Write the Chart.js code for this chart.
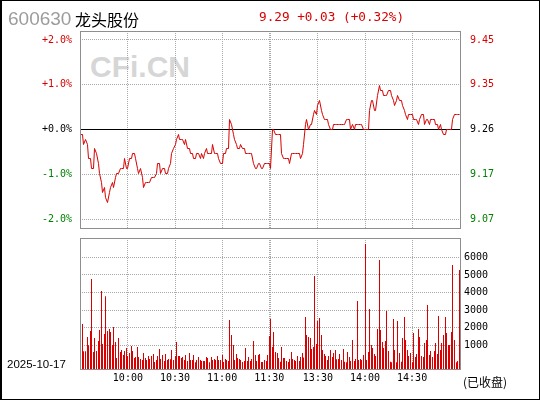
<!DOCTYPE html>
<html>
<head>
<meta charset="utf-8">
<script src="https://cdn.jsdelivr.net/npm/chart.js@4.4.1/dist/chart.umd.min.js"></script>
<style>
    html, body { margin: 0; padding: 0; background: #fff; }
    #frame { position: relative; width: 540px; height: 400px; overflow: hidden; background: #fff; }
    #frame canvas { position: absolute; left: 0; }
    .txt { position: absolute; line-height: 1; white-space: pre; }
    #code { left: 8px; top: 8px; font: 19px "Liberation Sans", Arial, sans-serif; color: #9c9c9c; }
    #name { left: 75px; top: 6.5px; font: 16px "Noto Sans CJK SC", sans-serif; color: #000; }
    #quote { left: 259px; top: 9px; font: 12.7px "DejaVu Sans Mono", monospace; color: #d80000; }
    #mark { left: 90px; top: 49.5px; font: bold 30px "Liberation Sans", Arial, sans-serif; color: #d6d6d6; }
    #date { left: 7px; top: 357.5px; font: 11.5px "Liberation Sans", Arial, sans-serif; color: #000; }
    #closed { left: 463px; top: 372.5px; font: 12px "Noto Sans CJK SC", sans-serif; color: #000; }
    #border { position: absolute; left: 0; top: 0; width: 540px; height: 400px; box-sizing: border-box;
              border: 1px solid #000; border-left-width: 2px; pointer-events: none; }
</style>
</head>
<body>
<div id="frame">
    <div id="mark" class="txt">CFi.CN</div>
    <canvas id="price-chart" width="540" height="244" style="top:0"></canvas>
    <canvas id="volume-chart" width="540" height="172" style="top:228px"></canvas>
    <div id="code" class="txt">600630</div>
    <div id="name" class="txt">龙头股份</div>
    <div id="quote" class="txt">9.29 +0.03 (+0.32%)</div>
    <div id="date" class="txt">2025-10-17</div>
    <div id="closed" class="txt">(已收盘)</div>
    <div id="border"></div>
</div>
<script>
// Previous close and percent range of the price panel
const prevClose = 9.26;
const pctRange = 2.2;

// Minute slots: 9:30..11:30 and 13:00..15:00 (242 slots)
const timeTicks = [30, 60, 90, 120, 121, 151, 181, 211];
const timeLabels = ['10:00', '10:30', '11:00', '11:30', '', '13:30', '14:00', '14:30'];

const pctTicks = [-2, -1, 0, 1, 2];
const volumeTicks = [1000, 2000, 3000, 4000, 5000, 6000];
const volumeMin = -350;
const volumeMax = 7100;

// Minute prices
const prices = [
    9.25, 9.25, 9.23, 9.24, 9.23, 9.20, 9.20, 9.18, 9.18, 9.22,
    9.21, 9.19, 9.17, 9.15, 9.13, 9.14, 9.12, 9.11, 9.13, 9.14,
    9.15, 9.14, 9.16, 9.17, 9.17, 9.18, 9.18, 9.18, 9.20, 9.18,
    9.18, 9.20, 9.20, 9.21, 9.21, 9.20, 9.18, 9.17, 9.18, 9.16,
    9.14, 9.15, 9.15, 9.15, 9.15, 9.16, 9.16, 9.16, 9.17, 9.19,
    9.19, 9.17, 9.18, 9.18, 9.17,
    9.17, 9.18, 9.19, 9.21, 9.22, 9.23, 9.24, 9.25, 9.24, 9.24, 9.24,
    9.23, 9.24, 9.22, 9.22, 9.21,
    9.21, 9.20, 9.20, 9.21, 9.21, 9.20, 9.21, 9.20, 9.21, 9.22,
    9.21, 9.21, 9.21, 9.23, 9.21, 9.21, 9.21, 9.20, 9.19, 9.19,
    9.21, 9.21, 9.22, 9.22, 9.28, 9.27, 9.25, 9.24, 9.23, 9.22,
    9.22, 9.23, 9.22, 9.22, 9.21, 9.21, 9.21, 9.21, 9.21, 9.19,
    9.18, 9.18, 9.19, 9.19, 9.18, 9.18, 9.19, 9.19, 9.19, 9.19,
    9.18, 9.26, 9.26, 9.25, 9.25, 9.25, 9.25, 9.21, 9.20, 9.20,
    9.20, 9.20, 9.19, 9.21, 9.21, 9.21, 9.21, 9.21, 9.21, 9.20,
    9.21, 9.23, 9.27, 9.28, 9.26, 9.27, 9.27, 9.29, 9.30, 9.29,
    9.31, 9.32, 9.30, 9.29, 9.28, 9.28, 9.28, 9.27, 9.26, 9.26,
    9.27, 9.27, 9.27, 9.27, 9.27, 9.27, 9.27, 9.27, 9.28, 9.28,
    9.28, 9.26, 9.27, 9.26, 9.27, 9.27, 9.27, 9.27, 9.27, 9.26,
    9.26,
    9.26, 9.26, 9.30, 9.32, 9.32, 9.30, 9.30, 9.33, 9.35, 9.34,
    9.34, 9.33, 9.33, 9.33, 9.34, 9.34, 9.33, 9.32, 9.31, 9.32,
    9.33, 9.32, 9.32, 9.31, 9.30, 9.29, 9.28, 9.29, 9.29, 9.29,
    9.28, 9.28, 9.28, 9.27, 9.28, 9.29, 9.29, 9.27, 9.28, 9.28,
    9.27, 9.28, 9.28, 9.28, 9.27, 9.27, 9.26, 9.27, 9.26, 9.25,
    9.25, 9.26, 9.26, 9.26, 9.26, 9.28, 9.29, 9.29, 9.29, 9.29
];

// Minute volumes
const volumes = [
    657, 2210, 657, 657, 1472, 998, 1813, 4767, 620, 1415,
    676, 1245, 1870, 4085, 1074, 1642, 3782, 1813, 1927, 1756,
    1017, 2040, 1188, 279, 1415, 620, 733, 449, 676, 847,
    392, 563, 961, 676, 279, 336, 904, 336, 222, 165,
    563, 279, 165, 392, 222, 392, 506, 51, 165, 392,
    790, 222, 449, 108, 506, 165, 222, 200, 733, 165,
    392, 1188, 392, 392, 279, 336, 165, 449, 108, 563,
    165, 165, 449, 30, 165, 336, 165, 108, 108, 108,
    336,
    279, 30, 336, 165, 222, 165, 392, 165, 165, 449,
    51, 222, 165, 100, 2438, 1586, 1017, 165, 506, 279,
    222, 165, 51, 108, 847, 108, 336, 108, 222, 1245,
    449, 108, 449, 506, 51, 51, 165, 108, 449, 1529,
    2495, 900, 1756, 620, 563, 279, 60, 904, 279, 279,
    108, 51, 222, 620, 222, 165, 108, 392, 108, 336,
    563, 300, 2608, 1586, 1472, 1415, 790, 904, 4938, 1074,
    2381, 2552, 1586, 733, 506, 392, 165, 392, 733,
    336, 563, 733, 200, 222, 506, 165, 790, 60, 30,
    620, 336, 100, 1301, 108, 222, 3517, 165, 222, 165,
    449, 6756, 165, 620, 3063, 1017, 847, 506, 392, 1927,
    5847, 1870, 1188, 847, 1245, 2949, 676, 60, 30, 2495,
    733, 30, 2381, 563, 60, 1415, 2608, 1301, 733, 392,
    563, 30, 1699, 336, 506, 1927, 1472, 392, 336, 1131,
    1301, 3290, 449, 676, 336, 676, 1131, 506, 2665, 733,
    1131, 1586, 2608, 1699, 1017, 1017, 1756, 5563, 1301, 30,
    100, 5279
];

const RED = '#d80000';
const GREEN = '#008000';
const GRID = '#a8a8a8';
const FRAME = '#8e8e8e';
const TICK_FONT = { family: 'DejaVu Sans Mono', size: 10 };

// Helper: fixed tick list for a scale
function fixedTicks(values) {
    return axis => { axis.ticks = values.map(v => ({ value: v })); };
}

// Helper: colour by sign against a base value
function signColor(value, base) {
    if (Math.abs(value - base) < 1e-9) return '#000';
    return value > base ? RED : GREEN;
}

// Plugin: gray frame round the plot area
const framePlugin = {
    id: 'frame',
    afterDraw(chart) {
        const { ctx, chartArea: a } = chart;
        ctx.save();
        ctx.strokeStyle = FRAME;
        ctx.lineWidth = 1;
        ctx.strokeRect(Math.round(a.left) + 0.5, Math.round(a.top) + 0.5,
            Math.round(a.right - a.left), Math.round(a.bottom - a.top));
        ctx.restore();
    }
};

// Plugin: snap marks to whole pixels so lines and bars stay crisp
const snapPlugin = {
    id: 'snap',
    afterDatasetsUpdate(chart) {
        chart.getSortedVisibleDatasetMetas().forEach(meta => {
            meta.data.forEach(el => {
                el.x = Math.floor(el.x) + 0.5;
                if (meta.type === 'line') el.y = Math.round(el.y - 0.5) + 0.5;
            });
        });
    }
};

const timeAxis = (showLabels) => ({
    type: 'linear',
    min: -0.5,
    max: 241.5,
    offset: false,
    afterBuildTicks: fixedTicks(timeTicks),
    afterFit: axis => { axis.height = showLabels ? 31 : 0; },
    ticks: {
        display: showLabels,
        autoSkip: false,
        maxRotation: 0,
        color: '#000',
        font: TICK_FONT,
        padding: 3,
        callback: (v, i) => timeLabels[i]
    },
    grid: { color: GRID, drawTicks: false, offset: false },
    border: { display: false, dash: [1, 1] }
});

// Price chart
new Chart(document.getElementById('price-chart'), {
    type: 'line',
    data: {
        datasets: [{
            data: prices.map((p, i) => ({ x: i, y: p })),
            yAxisID: 'yPrice',
            borderColor: RED,
            borderWidth: 1,
            pointRadius: 0,
            tension: 0
        }]
    },
    options: {
        responsive: false,
        animation: false,
        events: [],
        layout: { padding: { top: 31, bottom: 16, left: 0, right: 0 } },
        plugins: { legend: { display: false }, tooltip: { enabled: false } },
        scales: {
            x: timeAxis(false),
            yPct: {
                position: 'left',
                min: -pctRange,
                max: pctRange,
                afterBuildTicks: fixedTicks(pctTicks),
                afterFit: axis => { axis.width = 80; },
                ticks: {
                    font: TICK_FONT,
                    padding: 8,
                    color: ctx => signColor(ctx.tick.value, 0),
                    callback: v => (v >= 0 ? '+' : '') + v.toFixed(1) + '%'
                },
                grid: {
                    drawTicks: false,
                    color: ctx => ctx.tick.value === 0 ? '#000' : GRID
                },
                border: { display: false, dash: ctx => ctx.tick && ctx.tick.value === 0 ? [] : [1, 1] }
            },
            yPrice: {
                position: 'right',
                min: prevClose * (1 - pctRange / 100),
                max: prevClose * (1 + pctRange / 100),
                afterBuildTicks: fixedTicks(pctTicks.map(k => prevClose * (1 + k / 100))),
                afterFit: axis => { axis.width = 80; },
                ticks: {
                    font: TICK_FONT,
                    padding: 2,
                    color: ctx => signColor(ctx.tick.value, prevClose),
                    callback: v => v.toFixed(2)
                },
                grid: { display: false },
                border: { display: false }
            }
        }
    },
    plugins: [snapPlugin, framePlugin]
});

// Volume chart
new Chart(document.getElementById('volume-chart'), {
    type: 'bar',
    data: {
        datasets: [{
            data: volumes.map((v, i) => ({ x: i, y: v })),
            yAxisID: 'yVol',
            backgroundColor: RED,
            barThickness: 1,
            inflateAmount: 0,
            base: volumeMin
        }]
    },
    options: {
        responsive: false,
        animation: false,
        events: [],
        layout: { padding: { top: 10, bottom: 0, left: 80, right: 0 } },
        plugins: { legend: { display: false }, tooltip: { enabled: false } },
        scales: {
            x: timeAxis(true),
            yVol: {
                position: 'right',
                min: volumeMin,
                max: volumeMax,
                afterBuildTicks: fixedTicks(volumeTicks),
                afterFit: axis => { axis.width = 80; },
                ticks: { font: TICK_FONT, padding: 4, color: '#000', callback: v => String(v) },
                grid: { color: GRID, drawTicks: false },
                border: { display: false, dash: [1, 1] }
            }
        }
    },
    plugins: [snapPlugin, framePlugin]
});
</script>
</body>
</html>
